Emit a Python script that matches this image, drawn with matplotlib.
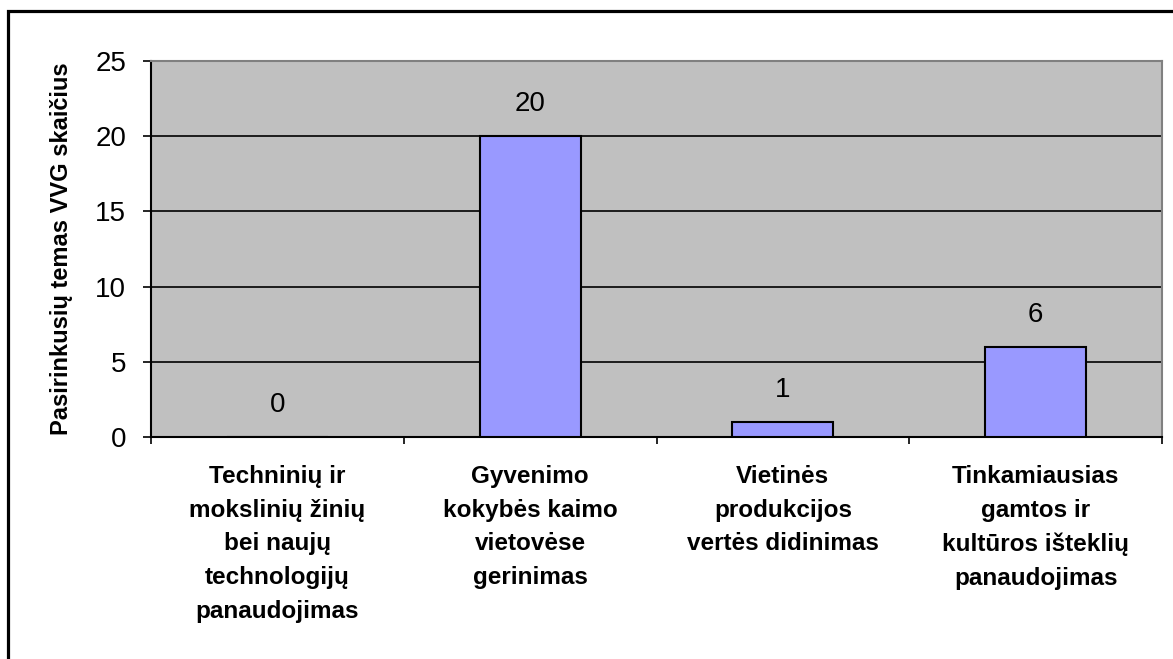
import matplotlib.pyplot as plt
from matplotlib.patches import Rectangle
import numpy as np

# chart data
categories = [
    "Techninių ir\nmokslinių žinių\nbei naujų\ntechnologijų\npanaudojimas",
    "Gyvenimo\nkokybės kaimo\nvietovėse\ngerinimas",
    "Vietinės\nprodukcijos\nvertės didinimas",
    "Tinkamiausias\ngamtos ir\nkultūros išteklių\npanaudojimas",
]
values = [0, 20, 1, 6]
y_ticks = [0, 5, 10, 15, 20, 25]
y_label = "Pasirinkusių temas VVG skaičius"

plt.rcParams['font.family'] = ['Liberation Sans', 'DejaVu Sans']

W, H = 1173, 659
fig = plt.figure(figsize=(W / 100, H / 100), dpi=100)
fig.patch.set_facecolor('white')

# outer chart border (runs off the right and bottom edge)
fig.patches.append(Rectangle((8 / W, -0.2), 1.2, 1 - 11 / H + 0.2,
                             transform=fig.transFigure, fill=False,
                             edgecolor='black', linewidth=2.3))

ax = fig.add_axes([151 / W, 1 - 437 / H, (1162 - 151) / W, (437 - 61) / H])
ax.set_facecolor('#C0C0C0')

x = np.arange(len(values))
ax.bar(x, values, width=0.4, color='#9999FF', edgecolor='black', linewidth=1.5, zorder=3)

for xi, v in zip(x, values):
    ax.annotate(str(v), (xi, v), xytext=(0, 23), textcoords='offset points',
                ha='center', va='center', fontsize=20)

ax.set_xlim(-0.5, len(values) - 0.5)
ax.set_ylim(0, 25)
ax.set_yticks(y_ticks)
ax.tick_params(axis='y', labelsize=20, direction='out', length=6, width=1.2, pad=12)
for yv in y_ticks[1:-1]:
    ax.axhline(yv, color='black', linewidth=1.2, zorder=1)

ax.set_xticks(x)
ax.set_xticklabels(categories, fontsize=17.5, fontweight='bold', linespacing=1.6)
ax.tick_params(axis='x', which='major', length=0, pad=20)
ax.set_xticks(np.arange(-0.5, len(values)), minor=True)
ax.tick_params(axis='x', which='minor', direction='out', length=5, width=1.2)

for side in ['top', 'right']:
    ax.spines[side].set_color('#808080')
    ax.spines[side].set_linewidth(1.5)
for side in ['left', 'bottom']:
    ax.spines[side].set_color('black')
    ax.spines[side].set_linewidth(1.5)

ax.set_ylabel(y_label, fontsize=17, fontweight='bold')
ax.yaxis.set_label_coords(-0.077, 0.5)

fig.savefig('out.png', dpi=100)
